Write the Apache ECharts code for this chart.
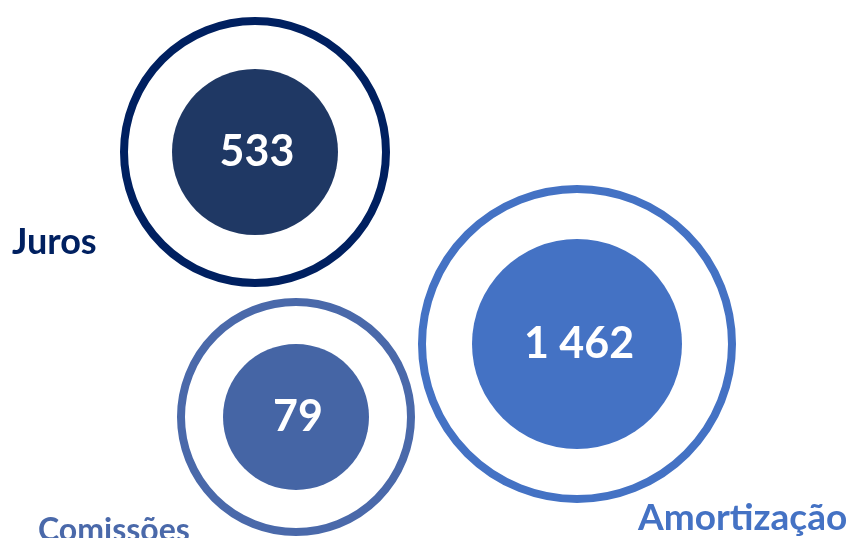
<!DOCTYPE html>
<html>
<head>
<meta charset="utf-8">
<style>
  html, body { margin: 0; padding: 0; background: #fff; }
  #chart { width: 847px; height: 538px; }
</style>
<script src="https://cdn.jsdelivr.net/npm/echarts@6/dist/echarts.min.js"></script>
</head>
<body>
<div id="chart"></div>
<script>
// data
var categories = ["Juros", "Comissões", "Amortização"];
var values = [533, 79, 1462];

// layout (pixels): bubble centre, inner disc size, ring size, label anchor
var bubbleCenters = [[255, 152], [296, 417], [577, 344]];
var innerSizes = [166, 146, 210];
var ringSizes = [262, 230, 310];
var labelAnchors = [[12, 242], [38, 531], [638, 518]];
var ringColors = ["#002060", "#4a69aa", "#4472c4"];
var discColors = ["#1f3864", "#4565a5", "#4472c4"];
var labelSizes = [36, 32, 37];

function fmt(v) {
  return String(v).replace(/\B(?=(\d{3})+(?!\d))/g, " ");
}

var chart = echarts.init(document.getElementById("chart"));

chart.setOption({
  backgroundColor: "#fff",
  animation: false,
  grid: { left: 0, right: 0, top: 0, bottom: 0 },
  xAxis: { type: "value", min: 0, max: 847, show: false },
  yAxis: { type: "value", min: 0, max: 538, inverse: true, show: false },
  series: [
    {
      type: "scatter",
      silent: true,
      data: categories.map(function (c, i) {
        return {
          name: c,
          value: bubbleCenters[i].concat(values[i]),
          symbolSize: ringSizes[i],
          itemStyle: { color: "rgba(0,0,0,0)", borderColor: ringColors[i], borderWidth: 8, opacity: 1 }
        };
      })
    },
    {
      type: "scatter",
      silent: true,
      data: categories.map(function (c, i) {
        return {
          name: c,
          value: bubbleCenters[i].concat(values[i]),
          symbolSize: innerSizes[i],
          itemStyle: { color: discColors[i], opacity: 1 }
        };
      }),
      label: {
        show: true,
        position: "inside",
        offset: [2, 0],
        color: "#fff",
        fontFamily: "Lato",
        fontWeight: "bold",
        fontSize: 43,
        formatter: function (p) { return fmt(p.value[2]); }
      }
    },
    {
      type: "scatter",
      silent: true,
      symbolSize: 0,
      itemStyle: { opacity: 1 },
      data: categories.map(function (c, i) {
        return {
          name: c,
          value: labelAnchors[i],
          label: { color: ringColors[i], fontSize: labelSizes[i] }
        };
      }),
      label: {
        show: true,
        position: "right",
        distance: 0,
        fontFamily: "Lato",
        fontWeight: "bold",
        formatter: "{b}"
      }
    }
  ]
});
</script>
</body>
</html>
